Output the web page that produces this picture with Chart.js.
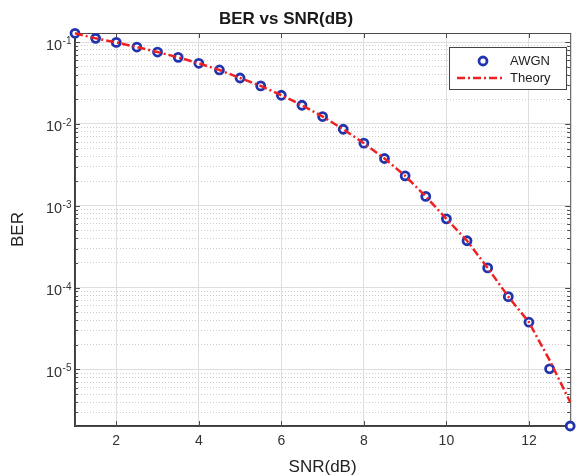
<!DOCTYPE html>
<html>
<head>
<meta charset="utf-8">
<title>BER vs SNR(dB)</title>
<script src="https://cdn.jsdelivr.net/npm/chart.js@4.4.1/dist/chart.umd.min.js"></script>
<style>
  html, body { margin: 0; padding: 0; background: #ffffff; }
  #wrap { width: 577px; height: 476px; }
</style>
</head>
<body>
<div id="wrap"><canvas id="berChart" width="577" height="476"></canvas></div>
<script>
// Signal-to-noise ratio sweep (dB)
const snrDb = [1, 1.5, 2, 2.5, 3, 3.5, 4, 4.5, 5, 5.5, 6, 6.5, 7, 7.5, 8, 8.5, 9, 9.5, 10, 10.5, 11, 11.5, 12, 12.5, 13];

// Simulated bit error rate over the AWGN channel
const berAwgn = [0.128, 0.111, 0.099, 0.0869, 0.0755, 0.065, 0.055, 0.0456, 0.0364, 0.0291,
                 0.0224, 0.0169, 0.0123, 0.00861, 0.00582, 0.00378, 0.00232, 0.0013, 0.000693, 0.000374,
                 0.000174, 7.76e-5, 3.78e-5, 1.02e-5, 2.04e-6];

// Theoretical bit error rate
const berTheory = [0.128, 0.111, 0.099, 0.0869, 0.0755, 0.065, 0.055, 0.0456, 0.0364, 0.0291,
                   0.0224, 0.0169, 0.0123, 0.00861, 0.00582, 0.00378, 0.00232, 0.0013, 0.000693, 0.000374,
                   0.000174, 7.76e-5, 3.78e-5, 1.3e-5, 4.0e-6];

// Axis ticks and limits
const xTickValues = [2, 4, 6, 8, 10, 12];
const yTickValues = [1e-5, 1e-4, 1e-3, 1e-2, 1e-1];
const yTickBase = '10';
const yTickExponents = ['-5', '-4', '-3', '-2', '-1'];
const xLimits = [1, 13];
const yLimits = [2.04e-6, 0.129];

const FONT = "'Liberation Sans', Arial, Helvetica, sans-serif";
const AWGN_BLUE = '#2234ad';
const THEORY_RED = '#f02020';
const THEORY_DASH = [8, 3, 2, 3];

Chart.defaults.font.family = FONT;

// minor log ticks (2..9 x 10^n) inside the y range
function minorLogTicks(min, max) {
  const out = [];
  for (let e = Math.floor(Math.log10(min)); e <= Math.ceil(Math.log10(max)); e++) {
    for (let k = 2; k <= 9; k++) {
      const v = k * Math.pow(10, e);
      if (v >= min && v <= max) out.push({ value: v });
    }
  }
  return out;
}

// box around the axes with inward tick marks
const axesBox = {
  id: 'axesBox',
  beforeDatasetsDraw(chart) {
    const { ctx, chartArea: a, scales } = chart;
    ctx.save();
    ctx.strokeStyle = '#4a4a4a';
    ctx.lineWidth = 1;
    ctx.strokeRect(a.left + 0.5, a.top + 0.5, a.right - a.left, a.bottom - a.top);
    ctx.beginPath();
    xTickValues.forEach(v => {
      const px = Math.round(scales.x.getPixelForValue(v)) + 0.5;
      ctx.moveTo(px, a.bottom); ctx.lineTo(px, a.bottom - 5);
      ctx.moveTo(px, a.top); ctx.lineTo(px, a.top + 5);
    });
    yTickValues.forEach(v => {
      const py = Math.round(scales.y.getPixelForValue(v)) + 0.5;
      ctx.moveTo(a.left, py); ctx.lineTo(a.left + 5, py);
      ctx.moveTo(a.right, py); ctx.lineTo(a.right - 5, py);
    });
    minorLogTicks(yLimits[0], yLimits[1]).forEach(t => {
      const py = Math.round(scales.y.getPixelForValue(t.value)) + 0.5;
      ctx.moveTo(a.left, py); ctx.lineTo(a.left + 3, py);
      ctx.moveTo(a.right, py); ctx.lineTo(a.right - 3, py);
    });
    ctx.stroke();
    ctx.restore();
  }
};

// power-of-ten tick labels with raised exponents, placed by the y scale
const powerLabels = {
  id: 'powerLabels',
  afterDraw(chart) {
    const { ctx, scales } = chart;
    const right = scales.y.right - 4;
    ctx.save();
    ctx.fillStyle = '#333333';
    ctx.textBaseline = 'alphabetic';
    ctx.textAlign = 'left';
    yTickValues.forEach((v, i) => {
      const py = scales.y.getPixelForValue(v);
      ctx.font = '10px ' + FONT;
      const ew = ctx.measureText(yTickExponents[i]).width;
      ctx.font = '14.5px ' + FONT;
      const bw = ctx.measureText(yTickBase).width;
      const x0 = right - ew - bw;
      ctx.fillText(yTickBase, x0, py + 7.5);
      ctx.font = '10px ' + FONT;
      ctx.fillText(yTickExponents[i], x0 + bw + 0.5, py + 2);
    });
    ctx.restore();
  }
};

// boxed legend in the upper right corner of the plot
const boxLegend = {
  id: 'boxLegend',
  afterDatasetsDraw(chart) {
    const { ctx } = chart;
    const ds = chart.data.datasets;
    const left = 449.5, top = 47.5, w = 117, h = 42;
    ctx.save();
    ctx.fillStyle = '#ffffff';
    ctx.fillRect(left, top, w, h);
    ctx.strokeStyle = '#444444';
    ctx.lineWidth = 1;
    ctx.strokeRect(left, top, w, h);

    // AWGN entry
    ctx.beginPath();
    ctx.arc(483, 61, 4, 0, Math.PI * 2);
    ctx.fillStyle = '#ffffff';
    ctx.fill();
    ctx.lineWidth = 2.8;
    ctx.strokeStyle = AWGN_BLUE;
    ctx.stroke();

    // Theory entry
    ctx.beginPath();
    ctx.setLineDash(THEORY_DASH);
    ctx.moveTo(457, 78);
    ctx.lineTo(505, 78);
    ctx.lineWidth = 2.5;
    ctx.strokeStyle = THEORY_RED;
    ctx.stroke();
    ctx.setLineDash([]);

    ctx.fillStyle = '#222222';
    ctx.font = '13px ' + FONT;
    ctx.textAlign = 'left';
    ctx.textBaseline = 'middle';
    ctx.fillText(ds[1].label, 510, 61);
    ctx.fillText(ds[0].label, 510, 78);
    ctx.restore();
  }
};

new Chart(document.getElementById('berChart'), {
  type: 'line',
  data: {
    labels: snrDb,
    datasets: [
      {
        label: 'Theory',
        data: snrDb.map((x, i) => ({ x, y: berTheory[i] })),
        borderColor: THEORY_RED,
        borderWidth: 2.5,
        borderDash: THEORY_DASH,
        pointRadius: 0,
        fill: false,
        tension: 0,
        clip: false,
        order: 0
      },
      {
        label: 'AWGN',
        data: snrDb.map((x, i) => ({ x, y: berAwgn[i] })),
        showLine: false,
        pointStyle: 'circle',
        pointRadius: 4,
        pointBorderWidth: 2.8,
        pointBorderColor: AWGN_BLUE,
        pointBackgroundColor: '#ffffff',
        clip: false,
        order: 1
      }
    ]
  },
  options: {
    responsive: false,
    animation: false,
    devicePixelRatio: 1,
    layout: { padding: { left: 0, right: 5, top: 0, bottom: 0 } },
    plugins: {
      legend: { display: false },
      tooltip: { enabled: false },
      title: {
        display: true,
        text: 'BER vs SNR(dB)',
        color: '#1a1a1a',
        font: { size: 17, weight: 'bold', lineHeight: 1 },
        padding: { top: 11, bottom: 5 }
      }
    },
    scales: {
      x: {
        type: 'linear',
        position: 'bottom',
        min: xLimits[0],
        max: xLimits[1],
        afterBuildTicks: s => { s.ticks = xTickValues.map(v => ({ value: v })); },
        afterFit: s => { s.height = 50; s.paddingLeft = 0; s.paddingRight = 0; },
        ticks: { color: '#333333', font: { size: 14 }, padding: 7, autoSkip: false, maxRotation: 0 },
        grid: { color: '#dedede', lineWidth: 1, drawTicks: false },
        border: { color: '#3c3c3c', width: 1.5 },
        title: {
          display: true,
          text: 'SNR(dB)',
          color: '#222222',
          font: { size: 17, lineHeight: 1 },
          padding: { top: 0, bottom: 0 }
        }
      },
      y: {
        type: 'logarithmic',
        position: 'left',
        min: yLimits[0],
        max: yLimits[1],
        afterBuildTicks: s => { s.ticks = yTickValues.map(v => ({ value: v })); },
        afterFit: s => { s.width = 75; s.paddingTop = 0; s.paddingBottom = 0; },
        ticks: { display: false },
        grid: { color: '#dedede', lineWidth: 1, drawTicks: false },
        border: { color: '#3c3c3c', width: 1.5 },
        title: {
          display: true,
          text: 'BER',
          color: '#222222',
          font: { size: 17, lineHeight: 1 },
          padding: { top: 10, bottom: 0 }
        }
      },
      yMinor: {
        type: 'logarithmic',
        position: 'left',
        min: yLimits[0],
        max: yLimits[1],
        afterBuildTicks: s => { s.ticks = minorLogTicks(yLimits[0], yLimits[1]); },
        afterFit: s => { s.width = 0; s.paddingTop = 0; s.paddingBottom = 0; },
        ticks: { display: false },
        grid: { color: '#cdcdcd', lineWidth: 1, drawTicks: false },
        border: { display: false, dash: [1, 2] }
      }
    }
  },
  plugins: [axesBox, powerLabels, boxLegend]
});
</script>
</body>
</html>
